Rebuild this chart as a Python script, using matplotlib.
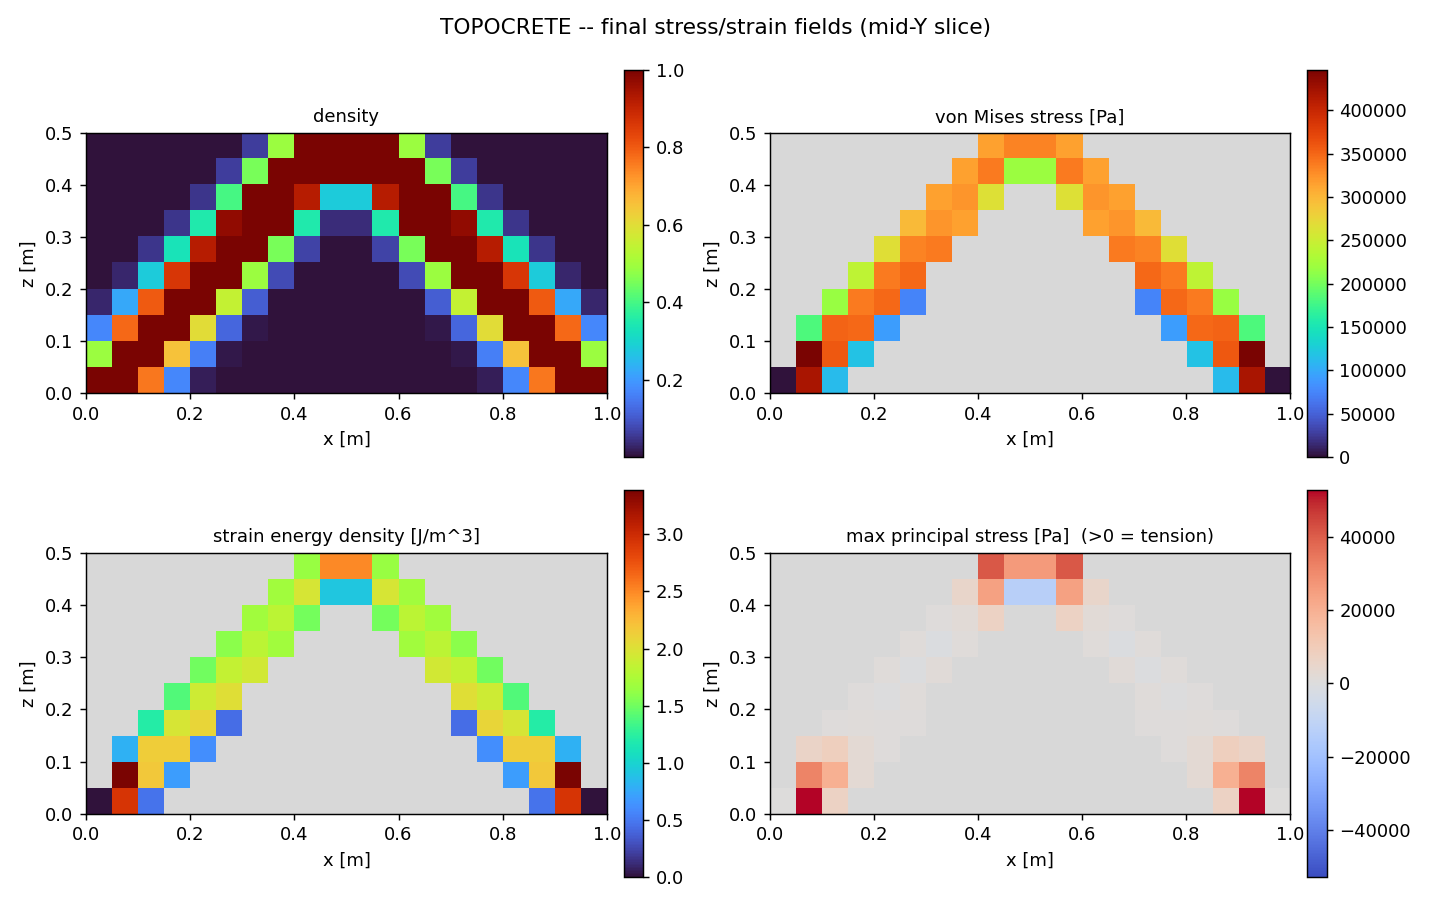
import matplotlib
matplotlib.use("Agg")
import matplotlib.pyplot as plt
import numpy as np

nan = np.nan
d = 0.001  # void density

# cell grid: 20 columns in x (0..1 m), 10 rows in z (0..0.5 m); first row = top
density = np.array([
    [d, d, d, d, d, d, 0.06, 0.49, 1.0, 1.0, 1.0, 1.0, 0.49, 0.06, d, d, d, d, d, d],
    [d, d, d, d, d, 0.06, 0.45, 1.0, 1.0, 1.0, 1.0, 1.0, 1.0, 0.45, 0.06, d, d, d, d, d],
    [d, d, d, d, 0.05, 0.40, 1.0, 1.0, 0.92, 0.28, 0.28, 0.92, 1.0, 1.0, 0.40, 0.05, d, d, d, d],
    [d, d, d, 0.05, 0.35, 0.97, 1.0, 1.0, 0.35, 0.04, 0.04, 0.35, 1.0, 1.0, 0.97, 0.35, 0.05, d, d, d],
    [d, d, 0.05, 0.33, 0.92, 1.0, 1.0, 0.45, 0.07, d, d, 0.07, 0.45, 1.0, 1.0, 0.92, 0.33, 0.05, d, d],
    [d, 0.03, 0.28, 0.86, 1.0, 1.0, 0.49, 0.08, d, d, d, d, 0.08, 0.49, 1.0, 1.0, 0.86, 0.28, 0.03, d],
    [0.03, 0.22, 0.80, 1.0, 1.0, 0.55, 0.11, d, d, d, d, d, d, 0.11, 0.55, 1.0, 1.0, 0.80, 0.22, 0.03],
    [0.17, 0.78, 1.0, 1.0, 0.60, 0.12, 0.01, d, d, d, d, d, d, 0.01, 0.12, 0.60, 1.0, 1.0, 0.78, 0.17],
    [0.49, 1.0, 1.0, 0.65, 0.16, 0.01, d, d, d, d, d, d, d, d, 0.01, 0.16, 0.65, 1.0, 1.0, 0.49],
    [1.0, 1.0, 0.76, 0.17, 0.02, d, d, d, d, d, d, d, d, d, d, 0.02, 0.17, 0.76, 1.0, 1.0],
])

# von Mises stress [Pa], nan = void cell
von_mises = np.array([
    [nan] * 8 + [315e3, 332e3, 332e3, 315e3] + [nan] * 8,
    [nan] * 7 + [315e3, 338e3, 219e3, 219e3, 338e3, 315e3] + [nan] * 7,
    [nan] * 6 + [315e3, 322e3, 264e3, nan, nan, 264e3, 322e3, 315e3] + [nan] * 6,
    [nan] * 5 + [298e3, 322e3, 315e3, nan, nan, nan, nan, 315e3, 322e3, 298e3] + [nan] * 5,
    [nan] * 4 + [266e3, 332e3, 338e3] + [nan] * 6 + [338e3, 332e3, 266e3] + [nan] * 4,
    [nan] * 3 + [241e3, 338e3, 349e3] + [nan] * 8 + [349e3, 338e3, 241e3] + [nan] * 3,
    [nan] * 2 + [217e3, 338e3, 349e3, 74e3] + [nan] * 8 + [74e3, 349e3, 338e3, 217e3] + [nan] * 2,
    [nan] + [183e3, 351e3, 349e3, 92e3] + [nan] * 10 + [92e3, 349e3, 351e3, 183e3] + [nan],
    [nan] + [447e3, 358e3, 118e3] + [nan] * 12 + [118e3, 358e3, 447e3] + [nan],
    [0.0, 420e3, 112e3] + [nan] * 14 + [112e3, 420e3, 0.0],
])

# strain energy density [J/m^3]
strain_energy = np.array([
    [nan] * 8 + [1.65, 2.50, 2.50, 1.65] + [nan] * 8,
    [nan] * 7 + [1.69, 1.97, 0.92, 0.92, 1.97, 1.69] + [nan] * 7,
    [nan] * 6 + [1.69, 1.82, 1.52, nan, nan, 1.52, 1.82, 1.69] + [nan] * 6,
    [nan] * 5 + [1.60, 1.82, 1.69, nan, nan, nan, nan, 1.69, 1.82, 1.60] + [nan] * 5,
    [nan] * 4 + [1.50, 1.86, 1.94] + [nan] * 6 + [1.94, 1.86, 1.50] + [nan] * 4,
    [nan] * 3 + [1.40, 1.92, 2.02] + [nan] * 8 + [2.02, 1.92, 1.40] + [nan] * 3,
    [nan] * 2 + [1.21, 1.96, 2.09, 0.45] + [nan] * 8 + [0.45, 2.09, 1.96, 1.21] + [nan] * 2,
    [nan] + [0.80, 2.14, 2.14, 0.61] + [nan] * 10 + [0.61, 2.14, 2.14, 0.80] + [nan],
    [nan] + [3.39, 2.17, 0.70] + [nan] * 12 + [0.70, 2.17, 3.39] + [nan],
    [0.0, 2.93, 0.47] + [nan] * 14 + [0.47, 2.93, 0.0],
])

# max principal stress [Pa]
principal = np.array([
    [nan] * 8 + [41e3, 26e3, 26e3, 41e3] + [nan] * 8,
    [nan] * 7 + [5e3, 24e3, -13e3, -13e3, 24e3, 5e3] + [nan] * 7,
    [nan] * 6 + [800, 1800, 7e3, nan, nan, 7e3, 1800, 800] + [nan] * 6,
    [nan] * 5 + [1200, -1000, 1200, nan, nan, nan, nan, 1200, -1000, 1200] + [nan] * 5,
    [nan] * 4 + [1000, -700, 1300] + [nan] * 6 + [1300, -700, 1000] + [nan] * 4,
    [nan] * 3 + [700, -200, 1000] + [nan] * 8 + [1000, -200, 700] + [nan] * 3,
    [nan] * 2 + [600, 900, 800, 500] + [nan] * 8 + [500, 800, 900, 600] + [nan] * 2,
    [nan] + [6e3, 8.5e3, 2.5e3, 500] + [nan] * 10 + [500, 2.5e3, 8.5e3, 6e3] + [nan],
    [nan] + [31.5e3, 20e3, 2.5e3] + [nan] * 12 + [2.5e3, 20e3, 31.5e3] + [nan],
    [300, 52.8e3, 7e3] + [nan] * 14 + [7e3, 52.8e3, 300],
])

extent = [0.0, 1.0, 0.0, 0.5]

turbo = plt.get_cmap("turbo").copy()
turbo.set_bad("0.85")
cw = plt.get_cmap("coolwarm").copy()
cw.set_bad("0.85")

fig, axes = plt.subplots(2, 2, figsize=(11, 7))

panels = [
    (axes[0, 0], density, "density", turbo, None),
    (axes[0, 1], von_mises, "von Mises stress [Pa]", turbo, None),
    (axes[1, 0], strain_energy, "strain energy density [J/m^3]", turbo, None),
    (axes[1, 1], principal, "max principal stress [Pa]  (>0 = tension)", cw, "sym"),
]

for ax, field, title, cmap, mode in panels:
    if mode == "sym":
        vlim = np.nanmax(np.abs(field))
        im = ax.imshow(field, extent=extent, cmap=cmap, vmin=-vlim, vmax=vlim,
                       interpolation="nearest")
    else:
        im = ax.imshow(field, extent=extent, cmap=cmap, interpolation="nearest")
    ax.set_title(title, fontsize=10)
    ax.set_xlabel("x [m]")
    ax.set_ylabel("z [m]")
    fig.colorbar(im, ax=ax, fraction=0.046, pad=0.03)

fig.suptitle("TOPOCRETE -- final stress/strain fields (mid-Y slice)", fontsize=12)
fig.tight_layout()
fig.savefig("out.png", dpi=130)
